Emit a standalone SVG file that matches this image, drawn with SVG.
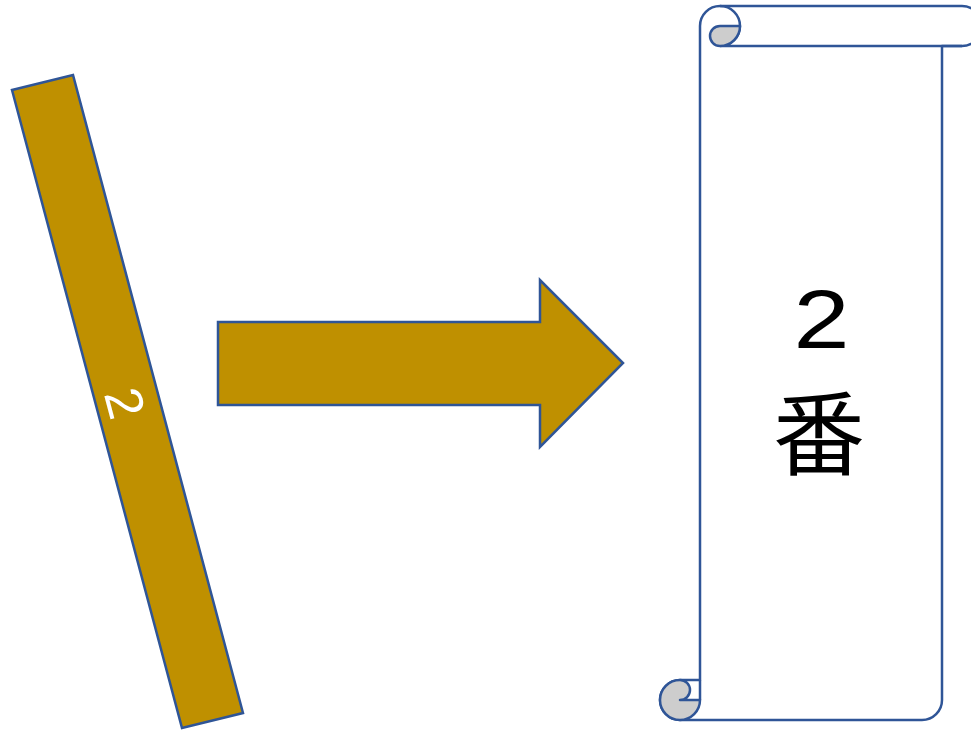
<svg xmlns="http://www.w3.org/2000/svg" width="971" height="730" viewBox="0 0 971 730">
<style>
.gold{fill:#BF9000;stroke:#2F5597;stroke-width:2.5;stroke-linejoin:miter}
.ln{fill:none;stroke:#2F5597;stroke-width:2.5;stroke-linejoin:round}
.wh{fill:#FFFFFF;stroke:#2F5597;stroke-width:2.5;stroke-linejoin:round}
.gr{fill:#CDCDCD;stroke:#2F5597;stroke-width:2.5;stroke-linejoin:round}
.big{fill:#000000;text-anchor:middle}
</style>
<rect width="971" height="730" fill="#FFFFFF"/>
<g id="stick">
<polygon class="gold" points="12,90 73,75 243,713 182,728"/>
<text transform="translate(125,403) rotate(75)" text-anchor="middle" dy="0.35em" font-family="Liberation Sans, sans-serif" font-size="52" fill="#FFFFFF">2</text>
</g>
<g id="connectors">
<polygon id="arrow" class="gold" points="218,322 540,322 540,280 623,363 540,447 540,405 218,405"/>
</g>
<g id="scroll">
<path class="wh" d="M680,720 A20,20 0 0 1 660,700 A20,20 0 0 1 680,680 L700,680 L700,26 A20,20 0 0 1 720,6 L962,6 A20,20 0 0 1 962,46 L942,46 L942,700 A20,20 0 0 1 922,720 Z"/>
<path class="ln" d="M962,46 L720,46 M720,6 A20,20 0 0 1 740,26 A20,20 0 0 1 720,46 M700,680 L700,700"/>
<path class="gr" d="M720,26 L740,26 A20,20 0 0 1 720,46 A10,10 0 0 1 720,26 Z"/>
<path class="gr" d="M700,700 A20,20 0 1 1 680,680 A10,10 0 0 1 680,700 Z"/>
<text class="big" transform="translate(821.5,348) scale(1.2,1)" font-family="Liberation Sans, sans-serif" font-size="84">2</text>
<text class="big" x="819" y="468" font-family="Noto Sans CJK JP, sans-serif" font-size="92">番</text>
</g>
</svg>
